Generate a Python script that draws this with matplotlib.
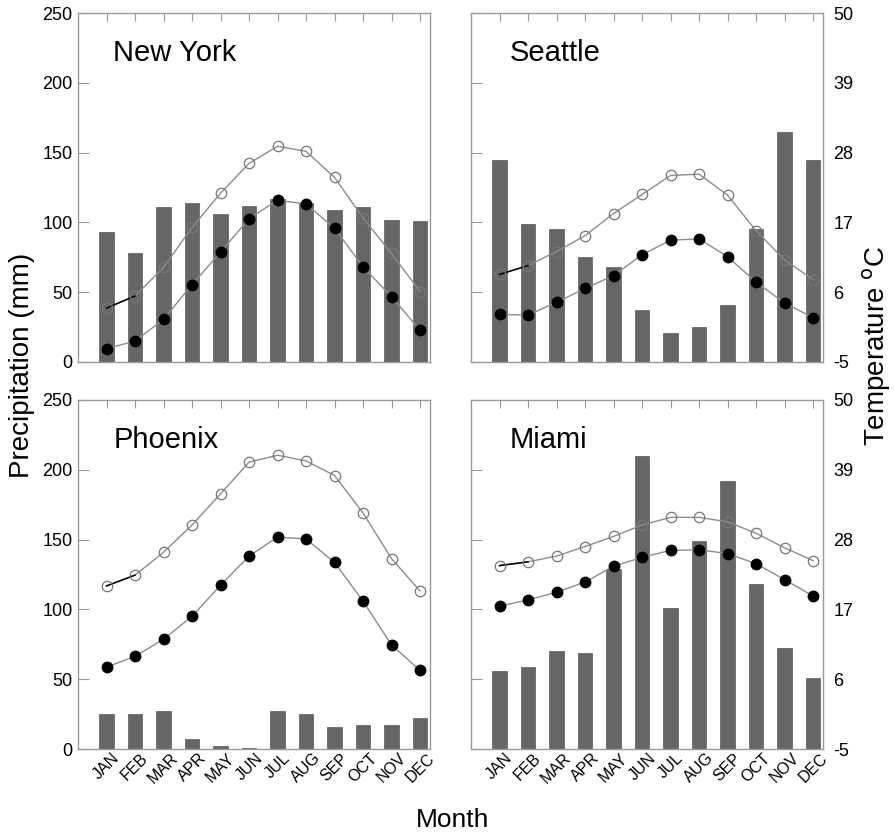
import numpy as np
import matplotlib
matplotlib.use("Agg")
import matplotlib.pyplot as plt
import matplotlib.transforms as mtrans

plt.rcParams['font.family'] = ['Liberation Sans', 'DejaVu Sans']
plt.rcParams['axes.unicode_minus'] = False

months = ["JAN", "FEB", "MAR", "APR", "MAY", "JUN",
          "JUL", "AUG", "SEP", "OCT", "NOV", "DEC"]
cities = ["New York", "Seattle", "Phoenix", "Miami"]

# precipitation (mm)
precip_ny = [93, 78, 111, 114, 106, 112, 117, 114, 109, 111, 102, 101]
precip_sea = [145, 99, 95, 75, 68, 37, 21, 25, 41, 95, 165, 145]
precip_phx = [25, 25, 27, 7, 2, 0.5, 27, 25, 16, 17, 17, 22]
precip_mia = [56, 59, 70, 69, 129, 210, 101, 149, 192, 118, 72, 51]

# max temperature (C), open circles
tmax_ny = [3.5, 5.4, 9.9, 16.2, 21.6, 26.3, 29.0, 28.2, 24.1, 17.7, 12.1, 6.1]
tmax_sea = [8.8, 10.2, 12.4, 14.9, 18.4, 21.4, 24.4, 24.6, 21.3, 15.7, 11.1, 8.0]
tmax_phx = [20.7, 22.4, 26.0, 30.3, 35.2, 40.2, 41.3, 40.4, 38.1, 32.2, 25.0, 19.9]
tmax_mia = [23.9, 24.5, 25.4, 26.9, 28.5, 30.3, 31.5, 31.5, 30.8, 29.0, 26.7, 24.7]

# min temperature (C), filled circles
tmin_ny = [-2.9, -1.7, 1.7, 7.2, 12.3, 17.6, 20.5, 19.9, 16.1, 10.0, 5.3, 0.0]
tmin_sea = [2.5, 2.4, 4.4, 6.6, 8.6, 11.9, 14.2, 14.4, 11.6, 7.6, 4.3, 2.0]
tmin_phx = [7.9, 9.6, 12.3, 15.9, 20.8, 25.4, 28.4, 28.1, 24.4, 18.3, 11.4, 7.4]
tmin_mia = [17.5, 18.5, 19.7, 21.3, 23.8, 25.2, 26.3, 26.4, 25.8, 24.2, 21.7, 19.1]

precip = [precip_ny, precip_sea, precip_phx, precip_mia]
tmax = [tmax_ny, tmax_sea, tmax_phx, tmax_mia]
tmin = [tmin_ny, tmin_sea, tmin_phx, tmin_mia]

p_ticks = [0, 50, 100, 150, 200, 250]
t_ticks = [-5, 6, 17, 28, 39, 50]

W, H = 895, 835
fig = plt.figure(figsize=(W / 100, H / 100), dpi=100)

# panel boxes in pixels: left, top
boxes = [(78, 13), (471, 13), (78, 400), (471, 400)]
pw, ph = 352, 349

spine_c = "#9a9a9a"
x = np.arange(12)
shift = mtrans.ScaledTranslation(6 / 100, 0, fig.dpi_scale_trans)

for i in range(4):
    l, t = boxes[i]
    ax = fig.add_axes([l / W, (H - t - ph) / H, pw / W, ph / H])
    is_left = i % 2 == 0
    is_bottom = i >= 2

    ax.bar(x, precip[i], width=0.5, color="#666666", edgecolor="#5a5a5a", linewidth=0.5, zorder=2)
    ax.set_xlim(-1.0, 11.35)
    ax.set_ylim(0, 250)
    ax.set_yticks(p_ticks)
    ax.set_xticks(x)
    ax.set_xticklabels(months, rotation=45, fontsize=11.5, ha='center')
    for lab in ax.get_xticklabels():
        lab.set_transform(lab.get_transform() + shift)
    ax.tick_params(axis='x', bottom=False, top=True, direction='in', length=6,
                   color=spine_c, labelbottom=is_bottom, labeltop=False, pad=1)
    if is_left:
        ax.tick_params(axis='y', left=False, right=True, direction='in', length=8,
                       color=spine_c, labelleft=True, labelright=False, labelsize=13, pad=4)
    else:
        ax.tick_params(axis='y', left=True, right=False, direction='in', length=8,
                       color=spine_c, labelleft=False, labelright=False)
    for s in ax.spines.values():
        s.set_color(spine_c)
        s.set_linewidth(1.0)

    ax2 = ax.twinx()
    ax2.set_ylim(-5, 50)
    ax2.set_yticks(t_ticks)
    ax2.tick_params(axis='y', right=False, left=False, labelright=not is_left,
                    labelsize=13, pad=4)
    for s in ax2.spines.values():
        s.set_visible(False)

    # temperature lines
    ax2.plot(x, tmax[i], color="#8c8c8c", lw=1.0, zorder=3)
    ax2.plot(x[:2], tmax[i][:2], color="black", lw=1.1, zorder=4)
    ax2.plot(x, tmax[i], ls='none', marker='o', ms=7.5, mfc='none', mec="#777777",
             mew=0.9, zorder=5)
    ax2.plot(x, tmin[i], color="#8c8c8c", lw=1.0, zorder=3)
    ax2.plot(x, tmin[i], ls='none', marker='o', ms=7.5, mfc='black', mec='black',
             zorder=5)

    ax2.text(0.1 if is_left else 0.11, 0.885, cities[i], transform=ax.transAxes,
             fontsize=21, ha='left', va='center')

fig.text(22 / W, 1 - 365 / H, "Precipitation (mm)", rotation=90, fontsize=20,
         ha='center', va='center')
fig.text(877 / W, 1 - 346 / H, "Temperature $^{\\mathrm{o}}$C", rotation=90, fontsize=20,
         ha='center', va='center')
fig.text(453 / W, 1 - 820 / H, "Month", fontsize=19, ha='center', va='center')

fig.savefig("out.png", dpi=100)
